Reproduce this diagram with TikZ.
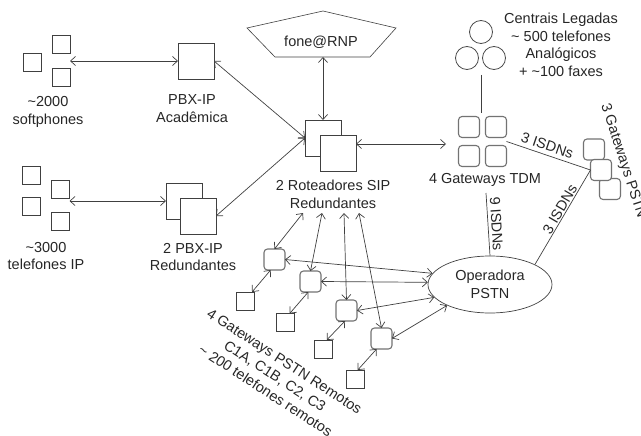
\documentclass[tikz,border=0pt]{standalone}
\usepackage{fontspec}
\setmainfont{Liberation Sans}
\usetikzlibrary{arrows.meta,shapes.geometric,fit}
\begin{document}
\begin{tikzpicture}[x=1pt,y=-1pt,
 ln/.style={draw=black!75, line width=0.7pt},
 arr/.style={ln, {Straight Barb[length=5pt,width=9pt]}-{Straight Barb[length=5pt,width=9pt]}},
 sq/.style={draw=black!75, fill=white, line width=0.8pt, minimum size=18pt, inner sep=0pt, outer sep=0pt},
 bigsq/.style={sq, minimum size=36pt},
 gw/.style={draw=black!55, fill=white, line width=1.1pt, rounded corners=3.5pt, minimum size=21pt, inner sep=0pt, outer sep=0pt},
 circ/.style={circle, draw=black!70, line width=0.8pt, minimum size=23pt, inner sep=0pt},
 lbl/.style={align=center, font=\fontsize{14.5}{17.5}\selectfont, text=black!85, inner sep=1pt},
 grp/.style={inner sep=0pt, outer sep=0pt}]
\useasboundingbox (0,0) rectangle (641,436);

% softphones
\node[sq] (sp1) at (61,44) {};
\node[sq] (sp2) at (32.5,62.5) {};
\node[sq] (sp3) at (61,77.5) {};
\node[grp, fit=(sp1)(sp2)(sp3)] (spg) {};
\node[lbl] (splbl) at (48,112) {\textasciitilde2000\\softphones};

% PBX-IP Academica
\node[bigsq] (pbxa) at (196,61) {};
\node[lbl] (pbxalbl) at (192,108.5) {PBX-IP\\Acadêmica};

% IP phones
\node[sq] (ip1) at (31.5,175) {};
\node[sq] (ip2) at (60.5,189) {};
\node[sq] (ip3) at (31.5,206) {};
\node[sq] (ip4) at (60.5,221) {};
\node[grp, fit=(ip1)(ip2)(ip3)(ip4)] (ipg) {};
\node[lbl] (iplbl) at (46,256) {\textasciitilde3000\\telefones IP};

% PBX-IP redundantes
\node[bigsq] (pbxr1) at (184,201) {};
\node[bigsq] (pbxr2) at (198,216) {};
\node[lbl] (pbxrlbl) at (193,257) {2 PBX-IP\\Redundantes};

% fone@RNP
\draw[ln, line width=0.6pt] (323,11) -- (396,28) -- (370,57) -- (275,57) -- (247,28) -- cycle;
\node[lbl] (fone) at (321,42) {fone@RNP};
\coordinate (foneb) at (323,57);

% routers
\node[bigsq] (rt1) at (323,138) {};
\node[bigsq] (rt2) at (338,153) {};
\node[lbl] (rtlbl) at (333,194.5) {2 Roteadores SIP\\Redundantes};
\coordinate (s1) at (303,213);
\coordinate (s2) at (322,213);
\coordinate (s3) at (344,213);
\coordinate (s4) at (359,213);

% legacy
\node[circ] (c1) at (481,32) {};
\node[circ] (c2) at (467,58) {};
\node[circ] (c3) at (494,58) {};
\node[lbl] (leglbl) at (561,45) {Centrais Legadas\\\textasciitilde{} 500 telefones\\Analógicos\\+ \textasciitilde100 faxes};
\coordinate (cb) at (481,75);

% TDM gateways
\node[gw] (t1) at (469,127) {};
\node[gw] (t2) at (496,127) {};
\node[gw] (t3) at (469,156) {};
\node[gw] (t4) at (496,156) {};
\node[grp, fit=(t1)(t2)(t3)(t4)] (tdm) {};
\node[lbl] (tdmlbl) at (485,180) {4 Gateways TDM};
\coordinate (tdmt) at (481,113);
\coordinate (tdmw) at (446,144);
\coordinate (tdmb) at (486,193);

% PSTN gateways
\node[gw] (g1) at (594,149.5) {};
\node[gw] (g3) at (610,189) {};
\node[gw] (g2) at (601,170) {};
\node[lbl, rotate=-72] (pgl) at (623,161) {3 Gateways PSTN};

% Operadora
\node[ellipse, draw=black!75, line width=0.7pt, minimum width=124pt, minimum height=57pt, inner sep=0pt, lbl] (op) at (490,284.5) {Operadora\\PSTN};

% remote gateways
\node[gw] (r1) at (274.5,259.5) {};
\node[gw] (r2) at (310.5,281.5) {};
\node[gw] (r3) at (346.5,310.5) {};
\node[gw] (r4) at (381.5,338.5) {};
\node[sq] (p1) at (245,301) {};
\node[sq] (p2) at (285.5,322.5) {};
\node[sq] (p3) at (323.5,349) {};
\node[sq] (p4) at (355.5,379) {};
\node[lbl, rotate=-33] (rmt) at (275,376) {4 Gateways PSTN Remotos\\C1A, C1B, C2, C3\\\textasciitilde{} 200 telefones remotos};

% connectors
\draw[arr] (spg.east |- pbxa) -- (pbxa.west);
\draw[arr] (pbxa.east) -- (rt1.west);
\draw[arr] (ipg.east |- pbxr1) -- (pbxr1.west);
\draw[arr] (pbxr2.east) -- (rt1.west);
\draw[arr] (foneb) -- (rt1.north);
\draw[arr] (rt2.east |- tdmw) -- (tdmw);
\draw[ln] (cb) -- (tdmt);
\draw[ln] (tdm.east) -- node[lbl, sloped, above=3pt, pos=0.45] {3 ISDNs} (g2.west);
\draw[ln] (op.24.5) -- node[lbl, sloped, above, pos=0.55] {3 ISDNs} (g2.west);
\draw[ln] (tdmb) -- node[lbl, sloped, above=2pt] {9 ISDNs} (op.north);

\draw[arr] (s1) -- (r1.north);
\draw[arr] (s2) -- (r2.north);
\draw[arr] (s3) -- (r3.north);
\draw[arr] (s4) -- (r4.north);

\draw[arr] (r1.east) -- (op.169);
\draw[arr] (r2.east) -- (op.178);
\draw[arr] (r3.east) -- (op.193);
\draw[arr] (r4.east) -- (op.206);

\draw[arr] (r1.250) -- (p1.52);
\draw[arr] (r2.258) -- (p2.65);
\draw[arr] (r3.262) -- (p3.70);
\draw[arr] (r4.245) -- (p4.76);
\end{tikzpicture}
\end{document}
